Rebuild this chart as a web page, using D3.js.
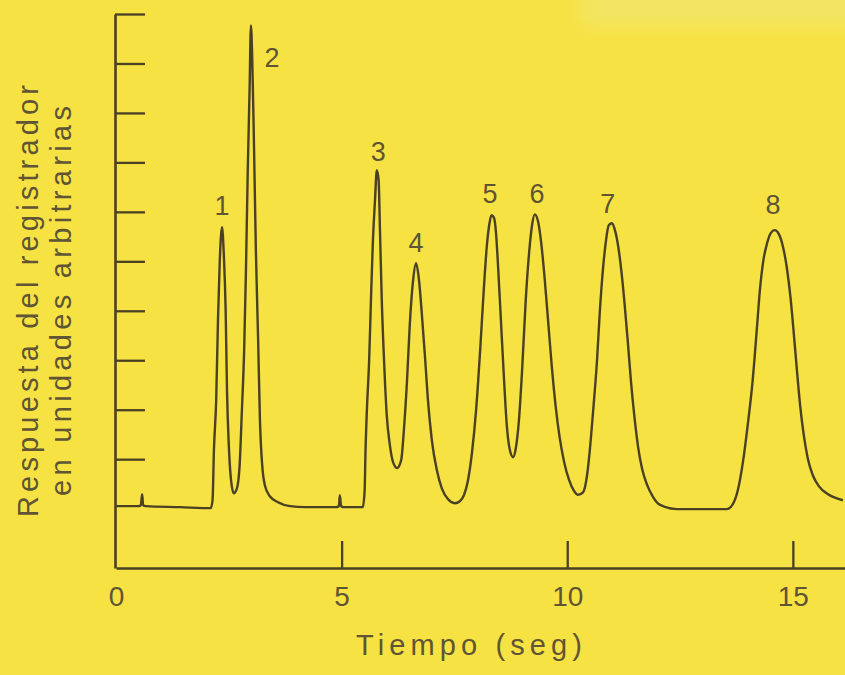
<!DOCTYPE html>
<html lang="es">
<head>
    <meta charset="UTF-8">
    <script src="https://cdn.jsdelivr.net/npm/d3@7"></script>
    <title>Cromatograma</title>
    <style>
        html, body { margin: 0; padding: 0; background: #f7e244; }
        svg { display: block; }
    </style>
</head>
<body>
</body>
<script>

    let tiempo = [
        0.00, 0.49, 0.55, 0.58, 0.60, 0.66, 1.42, 2.10, 2.14, 2.17,
        2.22, 2.26, 2.30, 2.35, 2.39, 2.43, 2.46, 2.50, 2.55, 2.61,
        2.68, 2.74, 2.79, 2.84, 2.88, 2.92, 2.96, 2.99, 3.02, 3.06,
        3.10, 3.15, 3.19, 3.24, 3.30, 3.41, 3.59, 3.86, 4.19, 4.87,
        4.94, 4.96, 4.99, 5.05, 5.47, 5.51, 5.53, 5.56, 5.61, 5.65,
        5.69, 5.74, 5.78, 5.82, 5.85, 5.89, 5.94, 6.00, 6.07, 6.14,
        6.23, 6.32, 6.38, 6.45, 6.51, 6.58, 6.65, 6.71, 6.78, 6.85,
        6.91, 7.00, 7.11, 7.22, 7.36, 7.51, 7.62, 7.71, 7.80, 7.89,
        7.98, 8.07, 8.15, 8.22, 8.27, 8.32, 8.38, 8.42, 8.46, 8.53,
        8.60, 8.66, 8.73, 8.80, 8.86, 8.93, 9.00, 9.08, 9.15, 9.22,
        9.28, 9.35, 9.42, 9.50, 9.58, 9.66, 9.74, 9.83, 9.93, 10.04,
        10.15, 10.24, 10.35, 10.44, 10.50, 10.57, 10.66, 10.72, 10.79, 10.86,
        10.92, 10.99, 11.06, 11.13, 11.20, 11.27, 11.34, 11.41, 11.49, 11.57,
        11.66, 11.77, 11.90, 12.05, 12.43, 13.54, 13.67, 13.78, 13.89, 14.00,
        14.11, 14.20, 14.27, 14.34, 14.43, 14.51, 14.60, 14.69, 14.78, 14.87,
        14.95, 15.02, 15.09, 15.16, 15.24, 15.33, 15.44, 15.58, 15.78, 16.11
    ]
    let respuesta = [
        0.05, 0.05, 0.07, 0.29, 0.07, 0.05, 0.03, 0.01, 0.17, 1.18,
        2.19, 3.81, 5.02, 5.69, 5.12, 4.01, 2.39, 1.28, 0.57, 0.31,
        0.41, 0.88, 1.99, 3.20, 4.82, 6.84, 8.46, 9.77, 9.07, 7.25,
        5.22, 3.40, 1.79, 0.88, 0.47, 0.25, 0.13, 0.05, 0.03, 0.03,
        0.05, 0.27, 0.05, 0.03, 0.03, 0.37, 1.18, 1.99, 3.00, 4.21,
        5.33, 6.24, 6.84, 6.64, 5.63, 4.21, 3.00, 1.89, 1.28, 0.94,
        0.82, 0.98, 1.59, 2.60, 3.71, 4.58, 4.96, 4.66, 3.91, 3.04,
        2.23, 1.38, 0.78, 0.41, 0.19, 0.11, 0.15, 0.27, 0.57, 1.14,
        1.99, 3.20, 4.42, 5.33, 5.73, 5.93, 5.87, 5.59, 5.02, 3.81,
        2.60, 1.69, 1.18, 1.04, 1.22, 1.79, 2.80, 4.21, 5.12, 5.73,
        5.95, 5.82, 5.40, 4.65, 3.75, 2.85, 2.10, 1.45, 0.95, 0.58,
        0.36, 0.28, 0.33, 0.68, 1.18, 1.93, 3.00, 3.95, 4.82, 5.43,
        5.73, 5.77, 5.62, 5.30, 4.80, 4.15, 3.40, 2.60, 1.85, 1.25,
        0.80, 0.48, 0.24, 0.08, -0.01, -0.01, 0.09, 0.37, 0.92, 1.69,
        2.60, 3.61, 4.42, 4.98, 5.37, 5.57, 5.63, 5.55, 5.30, 4.85,
        4.25, 3.55, 2.80, 2.10, 1.50, 1.02, 0.68, 0.45, 0.29, 0.17
    ]

    // etiquetas de los picos
    let picos = ["1", "2", "3", "4", "5", "6", "7", "8"]
    let picoTiempo = [2.35, 3.46, 5.81, 6.65, 8.29, 9.33, 10.90, 14.56]
    let picoAltura = [5.93, 8.92, 7.03, 5.18, 6.17, 6.18, 5.97, 5.95]

    let xTicks = [0, 5, 10, 15]
    let yTicks = [1, 2, 3, 4, 5, 6, 7, 8, 9, 10]

    let width = 845,
        height = 675,
        ink = "#4a4023",
        textColor = "#5f5433",
        font = "'Liberation Sans', Arial, sans-serif",
        x = d3.scaleLinear()
            .domain([0, 16.2])
            .range([116, 847]),
        y = d3.scaleLinear()
            .domain([-1.2, 10])
            .range([568, 14])

    let data = tiempo.map((t, i) => ({t: t, v: respuesta[i]}))

    let svg = d3.select("body")
        .append("svg")
        .attr("width", width)
        .attr("height", height)

    svg.append("rect")
        .attr("width", width)
        .attr("height", height)
        .attr("fill", "#f7e244")

    // zona palida arriba a la derecha (escaneo)
    let defs = svg.append("defs")
    defs.append("filter").attr("id", "blur")
        .attr("x", "-20%").attr("y", "-50%").attr("width", "140%").attr("height", "200%")
        .append("feGaussianBlur").attr("stdDeviation", 9)
    svg.append("rect")
        .attr("x", 580).attr("y", -10)
        .attr("width", 300).attr("height", 36)
        .attr("fill", "#eee882")
        .attr("opacity", 0.5)
        .attr("filter", "url(#blur)")

    // eje y, marcas hacia dentro
    let yAxis = svg.append("g")
        .attr("transform", `translate(${x(0) - 1},0)`)
        .call(d3.axisRight(y).tickValues(yTicks).tickSize(30).tickSizeOuter(0).tickFormat(""))
    yAxis.select(".domain").attr("stroke", ink).attr("stroke-width", 2.6)
    yAxis.selectAll(".tick line").attr("stroke", ink).attr("stroke-width", 2.3)

    // eje x, marcas hacia arriba (sin marca en 0, ahi esta el eje y)
    let xAxis = svg.append("g")
        .attr("transform", `translate(0,${y(-1.2)})`)
        .call(d3.axisBottom(x).tickValues(xTicks).tickSize(-27).tickSizeOuter(0).tickPadding(18))
    xAxis.attr("font-size", 28).attr("font-family", font)
    xAxis.select(".domain").attr("stroke", ink).attr("stroke-width", 2.6)
    xAxis.selectAll(".tick line")
        .attr("stroke", ink)
        .attr("stroke-width", 2.3)
        .attr("display", d => d === 0 ? "none" : null)
    xAxis.selectAll(".tick text").attr("fill", textColor)

    // trazo
    let line = d3.line()
        .x(d => x(d.t))
        .y(d => y(d.v))
        .curve(d3.curveMonotoneX)

    svg.append("path")
        .datum(data)
        .attr("d", line)
        .attr("fill", "none")
        .attr("stroke", ink)
        .attr("stroke-width", 2.4)
        .attr("stroke-linejoin", "round")

    // numeros de los picos
    svg.append("g").selectAll("text")
        .data(picos)
        .enter()
        .append("text")
        .attr("x", (d, i) => x(picoTiempo[i]))
        .attr("y", (d, i) => y(picoAltura[i]))
        .attr("text-anchor", "middle")
        .attr("font-family", font)
        .attr("font-size", 27)
        .attr("fill", textColor)
        .text(d => d)

    // titulos
    svg.append("text")
        .attr("x", 469)
        .attr("y", 655)
        .attr("text-anchor", "middle")
        .attr("font-family", font)
        .attr("font-size", 29)
        .attr("fill", textColor)
        .attr("textLength", 226)
        .attr("lengthAdjust", "spacing")
        .text("Tiempo (seg)")

    let yTitle = [
        {text: "Respuesta del registrador", base: 38, len: 432},
        {text: "en unidades arbitrarias", base: 71, len: 390}
    ]
    svg.append("g").selectAll("text")
        .data(yTitle)
        .enter()
        .append("text")
        .attr("transform", d => `translate(${d.base},301) rotate(-90)`)
        .attr("text-anchor", "middle")
        .attr("font-family", font)
        .attr("font-size", 29)
        .attr("fill", textColor)
        .attr("textLength", d => d.len)
        .attr("lengthAdjust", "spacing")
        .text(d => d.text)

</script>
</html>
